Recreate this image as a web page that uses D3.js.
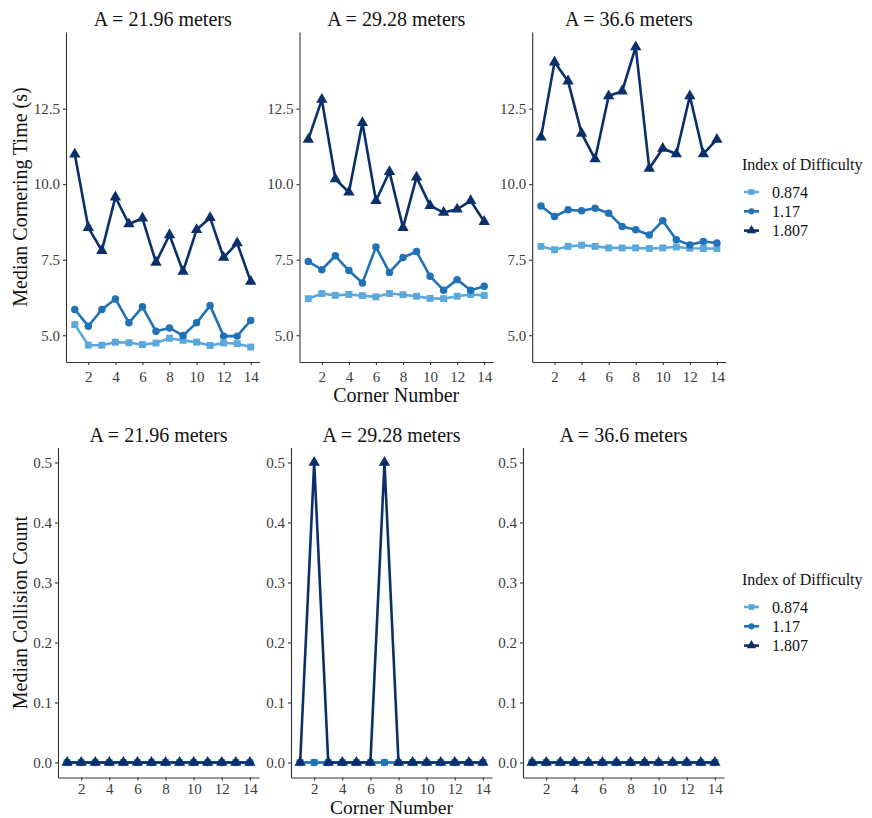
<!DOCTYPE html>
<html>
<head>
<meta charset="utf-8">
<script src="https://cdn.jsdelivr.net/npm/d3@7"></script>
<style>
  html, body { margin: 0; padding: 0; background: #fff; }
  svg { display: block; }
  text { font-family: "Liberation Serif", "Times New Roman", serif; }
</style>
</head>
<body>
<svg id="chart" width="872" height="818"></svg>
<script>
// ---- data ----
const corners = [1, 2, 3, 4, 5, 6, 7, 8, 9, 10, 11, 12, 13, 14];
const amplitudes = ["21.96", "29.28", "36.6"];
const difficulty = ["0.874", "1.17", "1.807"];
const xTicks = [2, 4, 6, 8, 10, 12, 14];
const timeTicks = [5.0, 7.5, 10.0, 12.5];
const collisionTicks = [0.0, 0.1, 0.2, 0.3, 0.4, 0.5];

// median cornering time (s), per amplitude, per index of difficulty
const time_A2196_ID0874 = [5.35, 4.67, 4.67, 4.77, 4.75, 4.69, 4.74, 4.90, 4.83, 4.77, 4.66, 4.74, 4.72, 4.61];
const time_A2196_ID117  = [5.85, 5.30, 5.85, 6.20, 5.41, 5.94, 5.13, 5.24, 4.99, 5.41, 5.98, 4.97, 4.97, 5.49];
const time_A2196_ID1807 = [10.99, 8.56, 7.80, 9.57, 8.68, 8.87, 7.41, 8.32, 7.11, 8.49, 8.89, 7.57, 8.05, 6.78];

const time_A2928_ID0874 = [6.21, 6.38, 6.32, 6.35, 6.31, 6.27, 6.38, 6.34, 6.29, 6.22, 6.21, 6.29, 6.35, 6.32];
const time_A2928_ID117  = [7.44, 7.17, 7.63, 7.14, 6.73, 7.92, 7.08, 7.57, 7.77, 6.95, 6.49, 6.84, 6.49, 6.62];
const time_A2928_ID1807 = [11.48, 12.80, 10.17, 9.73, 12.03, 9.45, 10.41, 8.56, 10.23, 9.29, 9.06, 9.17, 9.45, 8.76];

const time_A366_ID0874 = [7.94, 7.83, 7.94, 7.98, 7.94, 7.89, 7.89, 7.89, 7.87, 7.89, 7.92, 7.88, 7.87, 7.87];
const time_A366_ID117  = [9.28, 8.93, 9.15, 9.12, 9.20, 9.04, 8.60, 8.49, 8.32, 8.79, 8.16, 7.99, 8.10, 8.05];
const time_A366_ID1807 = [11.55, 14.04, 13.41, 11.68, 10.83, 12.92, 13.08, 14.54, 10.52, 11.18, 11.00, 12.92, 11.00, 11.48];

// median collision count, per amplitude, per index of difficulty
const coll_A2196_ID0874 = [0, 0, 0, 0, 0, 0, 0, 0, 0, 0, 0, 0, 0, 0];
const coll_A2196_ID117  = [0, 0, 0, 0, 0, 0, 0, 0, 0, 0, 0, 0, 0, 0];
const coll_A2196_ID1807 = [0, 0, 0, 0, 0, 0, 0, 0, 0, 0, 0, 0, 0, 0];

const coll_A2928_ID0874 = [0, 0, 0, 0, 0, 0, 0, 0, 0, 0, 0, 0, 0, 0];
const coll_A2928_ID117  = [0, 0, 0, 0, 0, 0, 0, 0, 0, 0, 0, 0, 0, 0];
const coll_A2928_ID1807 = [0, 0.5, 0, 0, 0, 0, 0.5, 0, 0, 0, 0, 0, 0, 0];

const coll_A366_ID0874 = [0, 0, 0, 0, 0, 0, 0, 0, 0, 0, 0, 0, 0, 0];
const coll_A366_ID117  = [0, 0, 0, 0, 0, 0, 0, 0, 0, 0, 0, 0, 0, 0];
const coll_A366_ID1807 = [0, 0, 0, 0, 0, 0, 0, 0, 0, 0, 0, 0, 0, 0];

const timeSeries = [
  [time_A2196_ID0874, time_A2196_ID117, time_A2196_ID1807],
  [time_A2928_ID0874, time_A2928_ID117, time_A2928_ID1807],
  [time_A366_ID0874, time_A366_ID117, time_A366_ID1807]
];
const collisionSeries = [
  [coll_A2196_ID0874, coll_A2196_ID117, coll_A2196_ID1807],
  [coll_A2928_ID0874, coll_A2928_ID117, coll_A2928_ID1807],
  [coll_A366_ID0874, coll_A366_ID117, coll_A366_ID1807]
];

// ---- styling ----
const colors = ["#5aa8dc", "#2171b5", "#0b2f6b"];
const shapes = [d3.symbolSquare, d3.symbolCircle, d3.symbolTriangle];
const shapeSize = [48, 44, 56];
const FONT = "Liberation Serif, Times New Roman, serif";
const axisColor = "#333";
const tickTextColor = "#3a3a3a";

const svg = d3.select("#chart");

// expanded domain like ggplot's default 5% padding
function padded(lo, hi) {
  const e = (hi - lo) * 0.05;
  return [lo - e, hi + e];
}

const allTimes = timeSeries.flat(2);
const timeDomain = padded(d3.min(allTimes), d3.max(allTimes));
const collDomain = padded(0, d3.max(collisionSeries.flat(2)));
const xDomain = padded(d3.min(corners), d3.max(corners));

function drawRow(cfg) {
  cfg.lefts.forEach((left, p) => {
    const x = d3.scaleLinear().domain(xDomain).range([left, left + cfg.width]);
    const y = d3.scaleLinear().domain(cfg.yDomain).range([cfg.bottom, cfg.top]);
    const g = svg.append("g");

    // panel title
    g.append("text")
      .attr("x", left + cfg.width / 2)
      .attr("y", cfg.top - 6)
      .attr("text-anchor", "middle")
      .attr("font-size", 20)
      .attr("fill", "#111")
      .text("A = " + amplitudes[p] + " meters");

    // axes
    const xAxis = d3.axisBottom(x).tickValues(xTicks).tickSizeInner(3).tickSizeOuter(0).tickPadding(cfg.xPad);
    const yAxis = d3.axisLeft(y).tickValues(cfg.yTicks).tickFormat(d3.format(".1f"))
      .tickSizeInner(3).tickSizeOuter(0).tickPadding(3);

    const gx = g.append("g").attr("transform", `translate(0,${cfg.bottom})`).call(xAxis);
    const gy = g.append("g").attr("transform", `translate(${left},0)`).call(yAxis);
    [gx, gy].forEach(a => {
      a.select(".domain").attr("stroke", axisColor).attr("stroke-width", 1.1);
      a.selectAll(".tick line").attr("stroke", axisColor).attr("stroke-width", 1.1);
      a.selectAll(".tick text").attr("font-family", FONT).attr("font-size", 15).attr("fill", tickTextColor);
    });

    // series: lines then symbols
    cfg.series[p].forEach((vals, s) => {
      const pts = corners.map((c, i) => [c, vals[i]]);
      const line = d3.line().x(d => x(d[0])).y(d => y(d[1]));
      g.append("path")
        .attr("d", line(pts))
        .attr("fill", "none")
        .attr("stroke", colors[s])
        .attr("stroke-width", 2.6)
        .attr("stroke-linejoin", "round");
      g.selectAll(null).data(pts).enter().append("path")
        .attr("d", d3.symbol().type(shapes[s]).size(shapeSize[s]))
        .attr("transform", d => `translate(${x(d[0])},${y(d[1])})`)
        .attr("fill", colors[s]);
    });
  });

  // y axis title
  svg.append("text")
    .attr("transform", `translate(${cfg.yTitleX},${(cfg.top + cfg.bottom) / 2}) rotate(-90)`)
    .attr("text-anchor", "middle")
    .attr("font-size", 20)
    .attr("fill", "#111")
    .text(cfg.yTitle);

  // x axis title under the middle panel
  svg.append("text")
    .attr("x", cfg.lefts[1] + cfg.width / 2)
    .attr("y", cfg.xTitleY)
    .attr("text-anchor", "middle")
    .attr("font-size", cfg.xTitleSize)
    .attr("fill", "#111")
    .text("Corner Number");

  // legend
  const lg = svg.append("g").attr("transform", `translate(742,${cfg.legendY})`);
  lg.append("text")
    .attr("x", 0).attr("y", 0)
    .attr("font-size", 16)
    .attr("fill", "#111")
    .text("Index of Difficulty");
  difficulty.forEach((lab, s) => {
    const cy = 22 + s * 19.3;
    lg.append("line")
      .attr("x1", 2).attr("x2", 17).attr("y1", cy).attr("y2", cy)
      .attr("stroke", colors[s]).attr("stroke-width", 2.6);
    lg.append("path")
      .attr("d", d3.symbol().type(shapes[s]).size(shapeSize[s] * 0.7))
      .attr("transform", `translate(9.5,${cy})`)
      .attr("fill", colors[s]);
    lg.append("text")
      .attr("x", 30).attr("y", cy + 5.5)
      .attr("font-size", 16)
      .attr("fill", "#111")
      .text(lab);
  });
}

drawRow({
  series: timeSeries,
  yDomain: timeDomain,
  yTicks: timeTicks,
  lefts: [66, 299.5, 532.2],
  width: 193.5,
  top: 32,
  bottom: 362,
  xPad: 6,
  yTitle: "Median Cornering Time (s)",
  yTitleX: 27,
  xTitleY: 402,
  xTitleSize: 20,
  legendY: 170
});

drawRow({
  series: collisionSeries,
  yDomain: collDomain,
  yTicks: collisionTicks,
  lefts: [58, 291, 523],
  width: 201,
  top: 447.5,
  bottom: 777.5,
  xPad: 3,
  yTitle: "Median Collision Count",
  yTitleX: 27,
  xTitleY: 813.6,
  xTitleSize: 19.5,
  legendY: 585
});
</script>
</body>
</html>
